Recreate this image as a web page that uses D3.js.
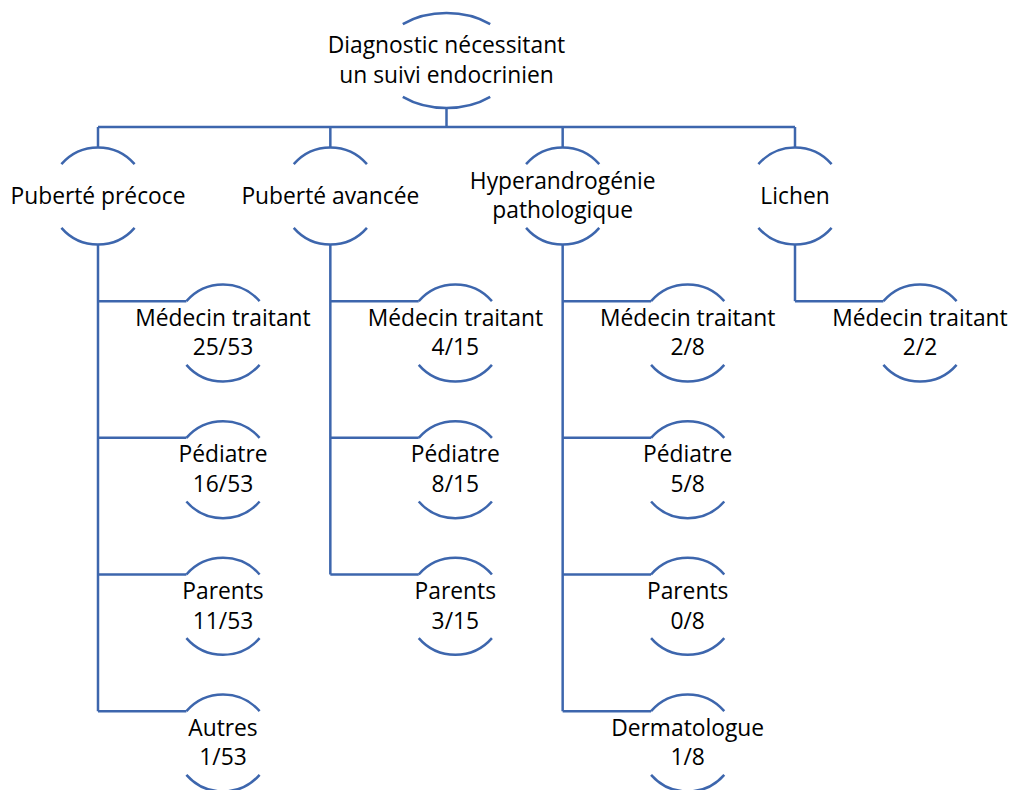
<!DOCTYPE html>
<html>
<head>
<meta charset="utf-8">
<script src="https://d3js.org/d3.v7.min.js"></script>
<style>
  body { margin: 0; background: #fff; }
  text { font-family: "Open Sans", Lato, sans-serif; fill: #000; }
</style>
</head>
<body>
<svg id="tree"></svg>
<script>
// data
var rootLabel = "Diagnostic nécessitant\nun suivi endocrinien";
var groups = ["Puberté précoce", "Puberté avancée", "Hyperandrogénie\npathologique", "Lichen"];
var groupTotals = [53, 15, 8, 2];
var sources = [
  ["Médecin traitant", "Pédiatre", "Parents", "Autres"],
  ["Médecin traitant", "Pédiatre", "Parents"],
  ["Médecin traitant", "Pédiatre", "Parents", "Dermatologue"],
  ["Médecin traitant"]
];
var counts = [
  [25, 16, 11, 1],
  [4, 8, 3],
  [2, 5, 0, 1],
  [2]
];

var width = 1014, height = 790;
var blue = "#3d66ad";
var fontSize = 22.8, lineH = 29.5;

var svg = d3.select("#tree")
  .attr("width", width)
  .attr("height", height);

// build the hierarchy from the arrays
var treeData = {
  name: rootLabel,
  children: groups.map(function(g, i) {
    return {
      name: g,
      children: sources[i].map(function(s, j) {
        return { name: s + "\n" + counts[i][j] + "/" + groupTotals[i], row: j };
      })
    };
  })
};
var root = d3.hierarchy(treeData);

// scales
var x = d3.scalePoint().domain(groups).range([98, 795]);
var childOffset = 125;
var rowY = d3.scaleLinear().domain([0, 3]).range([333, 743]);
var rootY = 60.5, groupY = 196, busY = 127;

// node shapes: ellipse parts (top and bottom arcs)
var rootShape = { rx: 68, ry: 47.5, t: 40 * Math.PI / 180 };
var nodeShape = { rx: 48.5, ry: 48.5, t: 49 * Math.PI / 180 };

root.x = x(groups[0]) / 2 + x(groups[3]) / 2;
root.y = rootY;
root.shape = rootShape;
root.children.forEach(function(g) {
  g.x = x(g.data.name);
  g.y = groupY;
  g.shape = nodeShape;
  g.children.forEach(function(c) {
    c.x = g.x + childOffset;
    c.y = rowY(c.data.row);
    c.shape = nodeShape;
  });
});

function arc(d, top) {
  var s = d.shape;
  var dx = s.rx * Math.sin(s.t), dy = s.ry * Math.cos(s.t);
  var y = top ? d.y - dy : d.y + dy;
  return "M" + (d.x - dx) + "," + y +
    "A" + s.rx + "," + s.ry + " 0 0 " + (top ? 1 : 0) + " " + (d.x + dx) + "," + y;
}

var links = svg.append("g")
  .attr("fill", "none")
  .attr("stroke", blue)
  .attr("stroke-width", 2.5);

// root to bus
links.append("path")
  .attr("d", "M" + root.x + "," + (root.y + rootShape.ry) + "V" + busY);
links.append("path")
  .attr("d", "M" + x(groups[0]) + "," + busY + "H" + x(groups[3]));
root.children.forEach(function(g) {
  links.append("path")
    .attr("d", "M" + g.x + "," + busY + "V" + (g.y - nodeShape.ry));
  var last = g.children[g.children.length - 1];
  var ey = nodeShape.ry * Math.cos(nodeShape.t);
  links.append("path")
    .attr("d", "M" + g.x + "," + (g.y + nodeShape.ry) + "V" + (last.y - ey));
  g.children.forEach(function(c) {
    links.append("path")
      .attr("d", "M" + g.x + "," + (c.y - ey) + "H" + (c.x - nodeShape.rx * Math.sin(nodeShape.t)));
  });
});

var nodes = svg.append("g")
  .selectAll("g")
  .data(root.descendants())
  .join("g");

nodes.append("path")
  .attr("d", function(d) { return arc(d, true); })
  .attr("fill", "none").attr("stroke", blue).attr("stroke-width", 2.5);
nodes.append("path")
  .attr("d", function(d) { return arc(d, false); })
  .attr("fill", "none").attr("stroke", blue).attr("stroke-width", 2.5);

nodes.each(function(d) {
  var lines = d.data.name.split("\n");
  var t = d3.select(this).append("text")
    .attr("text-anchor", "middle")
    .style("font-size", fontSize + "px");
  lines.forEach(function(l, i) {
    t.append("tspan")
      .attr("x", d.x)
      .attr("y", d.y + (i - (lines.length - 1) / 2) * lineH + fontSize * 0.33)
      .text(l);
  });
});
</script>
</body>
</html>
